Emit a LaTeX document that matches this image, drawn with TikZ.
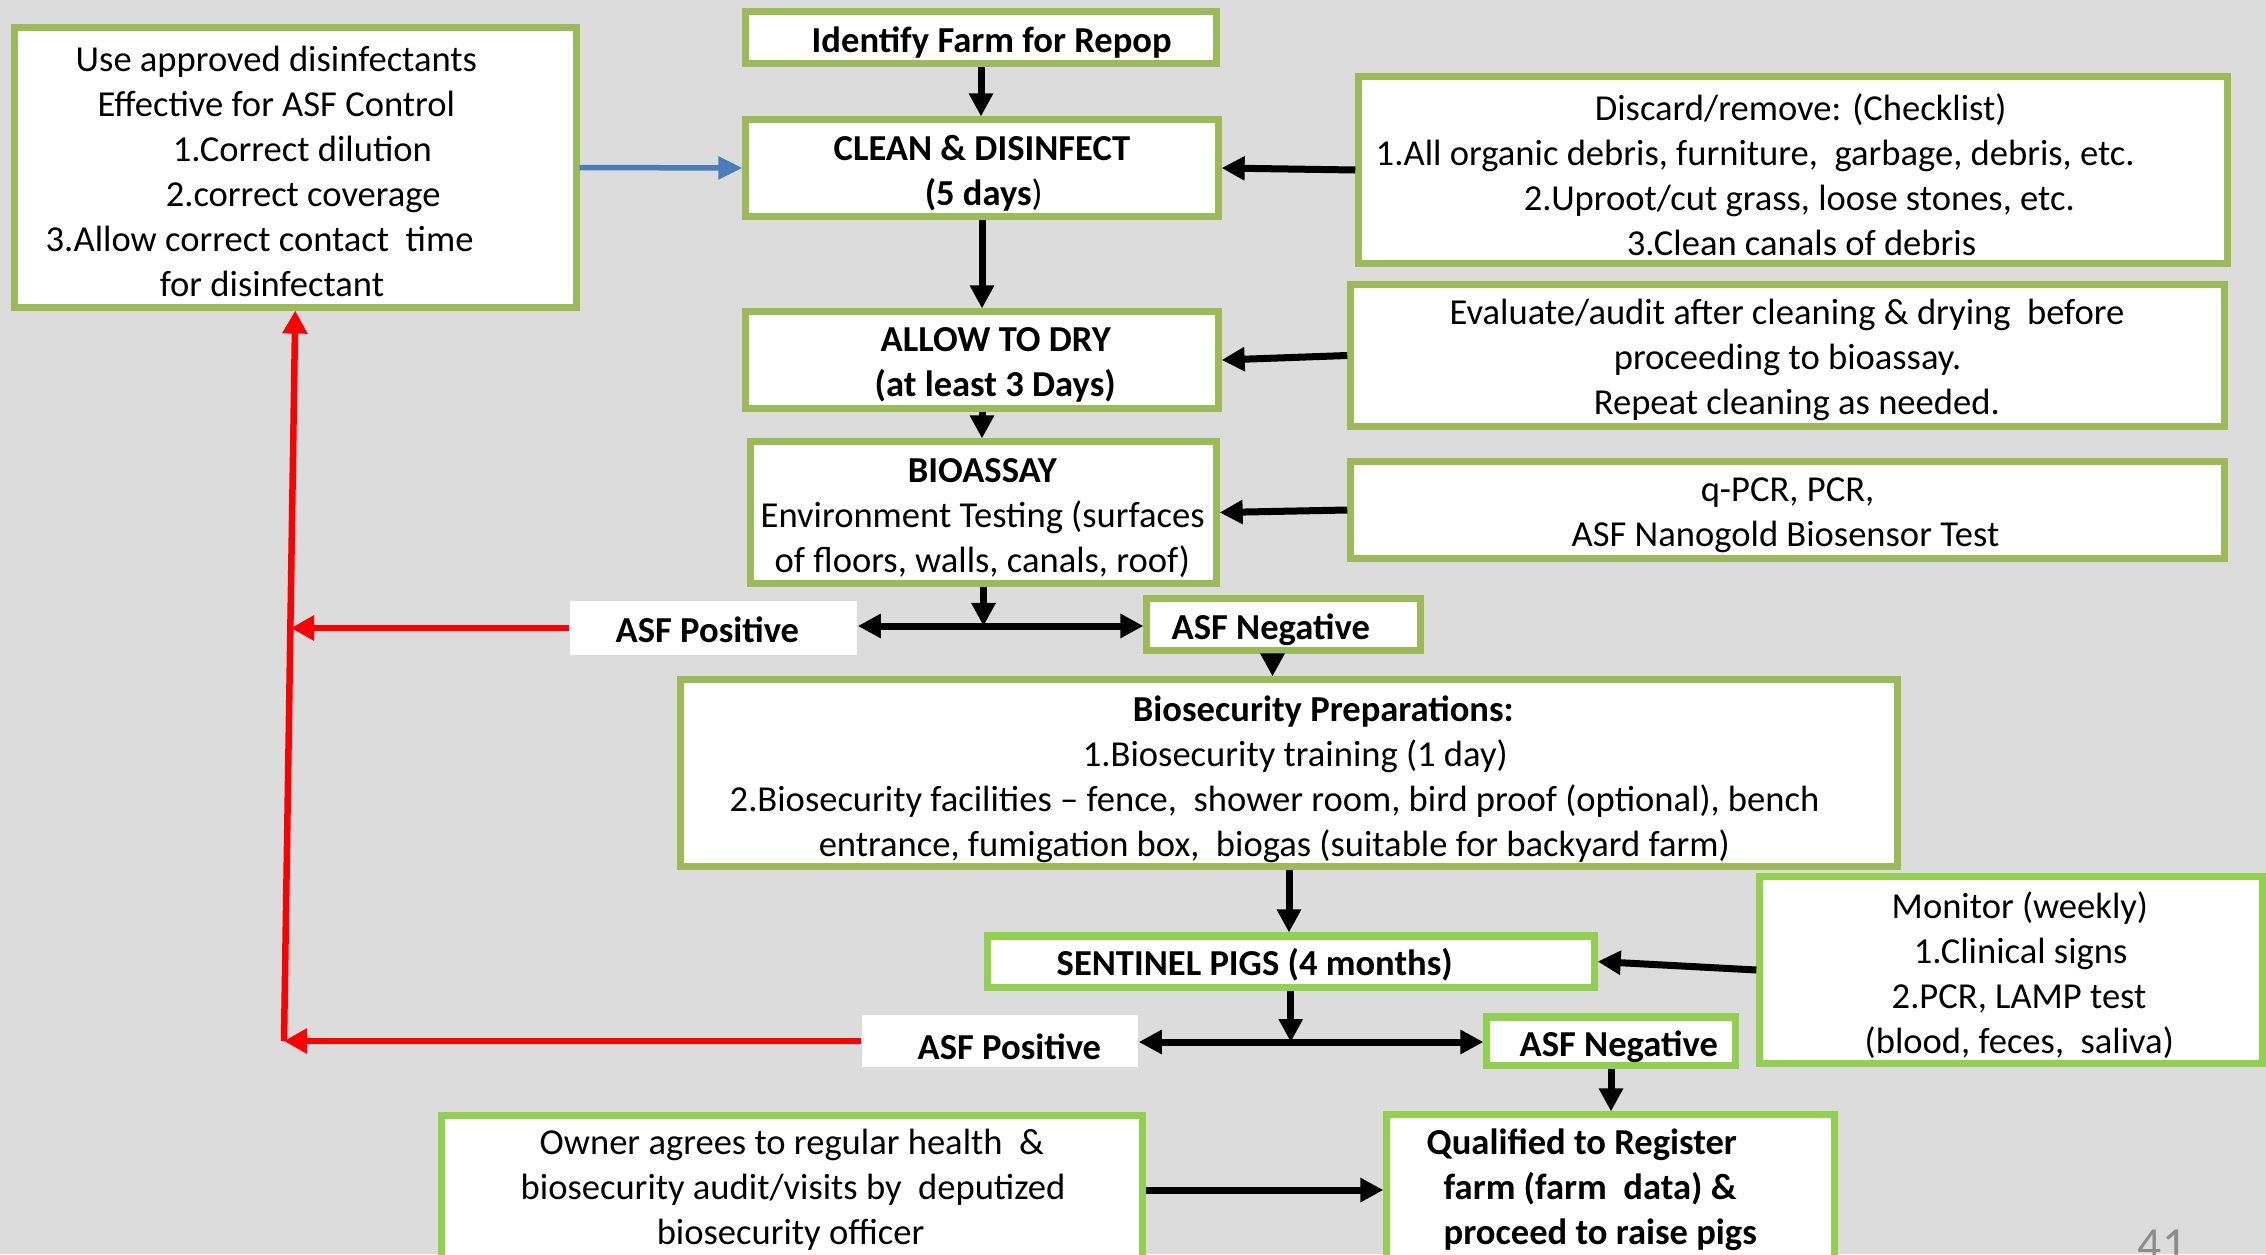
\documentclass[tikz,border=0pt]{standalone}
\usepackage{fontspec}
\setmainfont{Carlito}
\usetikzlibrary{arrows.meta,calc}
\definecolor{olive}{HTML}{9BBB59}
\definecolor{lime}{HTML}{92D050}
\definecolor{bgray}{HTML}{DCDCDC}
\definecolor{arrowblue}{HTML}{4A7EBB}
\definecolor{alarm}{HTML}{FF0000}
\definecolor{pagegray}{HTML}{8C8C8C}

\begin{document}
\begin{tikzpicture}[x=0.01cm,y=-0.01cm,
  txt/.style={font=\fontsize{10.4pt}{12.8pt}\selectfont},
  btxt/.style={font=\fontsize{10.4pt}{12.8pt}\selectfont\bfseries},
  obox/.style={draw=olive, line width=0.07cm, fill=white, inner sep=0pt},
  lbox/.style={draw=lime, line width=0.07cm, fill=white, inner sep=0pt},
  wbox/.style={fill=white, inner sep=0pt},
  lab/.style={txt, align=left, anchor=west, inner sep=0pt},
  blab/.style={btxt, align=left, anchor=west, inner sep=0pt},
  tip/.tip={Triangle[width=0.23cm,length=0.23cm]},
  blk/.style={draw=black, line width=0.07cm, -tip},
  blk2/.style={draw=black, line width=0.07cm, tip-tip},
  redarr/.style={draw=alarm, line width=0.065cm, -{Triangle[width=0.24cm,length=0.23cm]}},
  bluearr/.style={draw=arrowblue, line width=0.055cm, -{Triangle[width=0.22cm,length=0.24cm]}}
]
\clip (0,0) rectangle (2266,1254);
\fill[bgray] (0,0) rectangle (2266,1254);

% ---------- process column ----------
\node[obox, minimum width=4.70cm, minimum height=0.51cm] (ident) at (981,37.5) {};
\node[blab] (ident-t) at (811,43) {Identify Farm for Repop};

\node[obox, minimum width=4.72cm, minimum height=0.96cm] (clean) at (982,168) {};
\node[blab] (clean-t) at (833,173.5)
  {CLEAN \& DISINFECT\\\hspace*{0.91cm}(5 days{\mdseries)}};

\node[obox, minimum width=4.72cm, minimum height=0.96cm] (dry) at (982,360) {};
\node[blab] (dry-t) at (874,364.5)
  {\hspace*{0.06cm}ALLOW TO DRY\\(at least 3 Days)};

\node[obox, minimum width=4.65cm, minimum height=1.41cm] (bioassay) at (983.5,512.5) {};
\node[lab] (bioassay-t) at (760,518)
  {\hspace*{1.47cm}\textbf{BIOASSAY}\\
   Environment Testing (surfaces\\
   \hspace*{0.14cm}of floors, walls, canals, roof)};

% ---------- side notes ----------
\node[obox, minimum width=5.615cm, minimum height=2.79cm] (disinf) at (295.25,167.5) {};
\node[lab] (disinf-t) at (45,171)
  {\hspace*{0.30cm}Use approved disinfectants\\
   \hspace*{0.52cm}Effective for ASF Control\\
   \hspace*{1.27cm}1.Correct dilution\\
   \hspace*{1.20cm}2.correct coverage\\
   3.Allow correct contact\ \ time\\
   \hspace*{1.14cm}for disinfectant};

\node[obox, minimum width=8.68cm, minimum height=1.86cm] (discard) at (1793,170) {};
\node[lab] (discard-t) at (1375,175)
  {\hspace*{2.19cm}Discard/remove: (Checklist)\\
   1.All organic debris, furniture,\ \ garbage, debris, etc.\\
   \hspace*{1.48cm}2.Uproot/cut grass, loose stones, etc.\\
   \hspace*{2.51cm}3.Clean canals of debris};

\node[obox, minimum width=8.73cm, minimum height=1.41cm] (eval) at (1787.5,355.5) {};
\node[lab] (eval-t) at (1449,360)
  {Evaluate/audit after cleaning \& drying\ \ before\\
   \hspace*{1.64cm}proceeding to bioassay.\\
   \hspace*{1.44cm}Repeat cleaning as needed.};

\node[obox, minimum width=8.73cm, minimum height=0.96cm] (qpcr) at (1787.5,510) {};
\node[lab] (qpcr-t) at (1571,515)
  {\hspace*{1.29cm}q-PCR, PCR,\\ASF Nanogold Biosensor Test};

% ---------- first test outcome ----------
\node[wbox, minimum width=2.87cm, minimum height=0.53cm] (pos1) at (713.5,628) {};
\node[blab] (pos1-t) at (615,630) {ASF Positive};
\node[obox, minimum width=2.73cm, minimum height=0.51cm] (neg1) at (1283.5,624.5) {};
\node[blab] (neg1-t) at (1171,630) {ASF Negative};
\coordinate (j1) at (983,626);

% ---------- biosecurity and sentinel stage ----------
\node[obox, minimum width=12.16cm, minimum height=1.86cm] (biosec) at (1289,773) {};
\node[lab] (biosec-t) at (729,779)
  {\hspace*{4.03cm}\textbf{Biosecurity Preparations:}\\
   \hspace*{3.53cm}1.Biosecurity training (1 day)\\
   2.Biosecurity facilities -- fence,\ \ shower room, bird proof (optional), bench\\
   \hspace*{0.89cm}entrance, fumigation box,\ \ biogas (suitable for backyard farm)};

\node[lbox, minimum width=6.065cm, minimum height=0.51cm] (sentinel) at (1290.75,961.5) {};
\node[blab] (sentinel-t) at (1056,965) {SENTINEL PIGS (4 months)};

\node[lbox, minimum width=5.02cm, minimum height=1.86cm] (monitor) at (2011,970) {};
\node[lab] (monitor-t) at (1864,975)
  {\hspace*{0.27cm}Monitor (weekly)\\
   \hspace*{0.49cm}1.Clinical signs\\
   \hspace*{0.27cm}2.PCR, LAMP test\\
   (blood, feces,\ \ saliva)};

% ---------- second test outcome ----------
\node[wbox, minimum width=2.76cm, minimum height=0.52cm] (pos2) at (1000,1041) {};
\node[blab] (pos2-t) at (917,1047) {ASF Positive};
\node[lbox, minimum width=2.48cm, minimum height=0.48cm] (neg2) at (1611,1041) {};
\node[blab] (neg2-t) at (1519,1047) {ASF Negative};
\coordinate (j2) at (1290,1042);

% ---------- registration ----------
\node[lbox, minimum width=7.00cm, minimum height=1.48cm] (owner) at (792,1190) {};
\node[lab] (owner-t) at (520,1190)
  {\hspace*{0.19cm}Owner agrees to regular health\ \ \&\\
   biosecurity audit/visits by\ \ deputized\\
   \hspace*{1.36cm}biosecurity officer};

\node[lbox, minimum width=4.47cm, minimum height=1.50cm] (qual) at (1610.5,1190) {};
\node[blab] (qual-t) at (1426,1190)
  {Qualified to Register\\
   \hspace*{0.17cm}farm (farm\ \ data) \&\\
   \hspace*{0.17cm}proceed to raise pigs};

% red return line
\coordinate (rb) at (284,1041);
\coordinate (r1) at (291,628);

% ---------- connectors ----------
\draw[blk] (ident.south) -- (ident.south |- clean.north);
\draw[blk] (clean.south) -- (dry.north);
\draw[blk] (dry.south) -- (dry.south |- bioassay.north);
\draw[blk] (discard.west) -- (clean.east);
\draw[blk] (eval.west) -- (dry.east);
\draw[blk] (qpcr.west) -- (bioassay.east);
\draw[bluearr] (disinf.east) -- (clean.west);

\draw[blk] (bioassay.south) -- (bioassay.south |- j1);
\draw[blk2] (pos1.east |- j1) -- (neg1.west |- j1);
\draw[blk] ([shift={(-11,0)}]neg1.south) -- ([shift={(-11,0)}]neg1.south |- biosec.north);
\draw[blk] (biosec.south) -- (biosec.south |- sentinel.north);
\draw[blk] (monitor.west) -- (sentinel.east);

\draw[blk] (sentinel.south) -- (sentinel.south |- j2);
\draw[blk2] (pos2.east |- j2) -- (neg2.west |- j2);
\draw[blk] (neg2.south) -- (neg2.south |- qual.north);
\draw[blk] (owner.east) -- (qual.west);

\draw[redarr] (pos1.west) -- (r1);
\draw[redarr] (pos2.west) -- (rb);
\draw[redarr] (rb) -- (disinf.south);

% page number
\node[font=\fontsize{13.5pt}{16pt}\selectfont, text=pagegray, anchor=base] (pagenum) at (2162,1260) {41};
\end{tikzpicture}
\end{document}
